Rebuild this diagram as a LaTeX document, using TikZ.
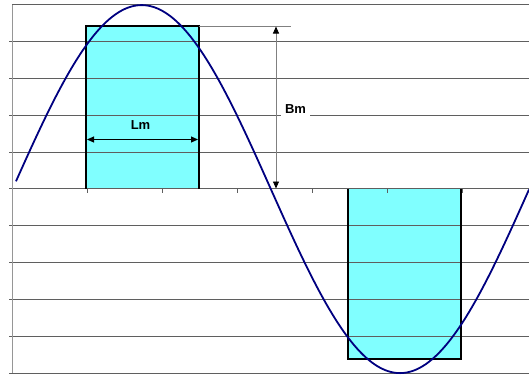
\documentclass[tikz,border=0pt]{standalone}
\usepackage{fontspec}
\setmainfont{Liberation Sans}
\usetikzlibrary{arrows.meta}
\definecolor{boxcyan}{RGB}{128,255,255}
\definecolor{curveblue}{RGB}{0,0,128}
\definecolor{gridgray}{RGB}{95,95,95}
\definecolor{axisgray}{RGB}{150,150,150}
\definecolor{dimgray}{RGB}{128,128,128}
\begin{document}
\begin{tikzpicture}[x=1pt,y=-1pt,
  gridline/.style={draw=gridgray,line width=0.9pt},
  axisline/.style={draw=axisgray,line width=1pt},
  fluxbox/.style={draw=black,line width=2pt,line join=miter},
  wave/.style={draw=curveblue,line width=1.8pt},
  dimarrow/.style={line width=0.9pt,{Triangle[length=7pt,width=6pt,color=black]}-{Triangle[length=7pt,width=6pt,color=black]}},
  lbl/.style={font=\fontsize{13}{13}\selectfont\bfseries,inner sep=0pt}
]
\useasboundingbox (0,0) rectangle (529,375);
% box fills
\fill[boxcyan] (86,25.7) rectangle (199,188.9);
\fill[boxcyan] (348,188.9) rectangle (460.5,359);
% grid
\draw[gridline] (12,4.5) -- (529,4.5);
\foreach \k in {1,...,10} \draw[gridline] (9,{4.5+36.88*\k}) -- (529,{4.5+36.88*\k});
\draw[axisline] (12,4.5) -- (12,373.3);
\foreach \x in {87,162,...,462} \draw[gridline] (\x,188.9) -- (\x,192.5);
% box borders
\draw[fluxbox] (86,188.9) |- (199,25.7) -- (199,188.9);
\draw[fluxbox] (348,188.9) |- (460.5,359) -- (460.5,188.9);
% curve
\draw[wave] plot[domain=16:529,samples=200,smooth] (\x,{189.1-184*sin(0.69673*(\x-12.5))});
% Bm reference line and arrows
\coordinate (boxtr) at (199,26);
\coordinate (bmref) at (291,26);
\draw[draw=dimgray,line width=0.8pt] (boxtr) -- (bmref);
\coordinate (bmtop) at (276,26.5);
\coordinate (bmbot) at (276,188.5);
\draw[dimarrow,draw=dimgray] (bmtop) -- (bmbot);
\coordinate (lmL) at (87,139.5);
\coordinate (lmR) at (198,139.5);
\draw[dimarrow,draw=black] (lmL) -- (lmR);
% labels
\node[lbl,anchor=base] (lm) at (140.5,129.6) {Lm};
\node[lbl,fill=white,inner xsep=4pt,inner ysep=3pt,anchor=base] (bm) at (295.5,113.8) {Bm};
\end{tikzpicture}
\end{document}
